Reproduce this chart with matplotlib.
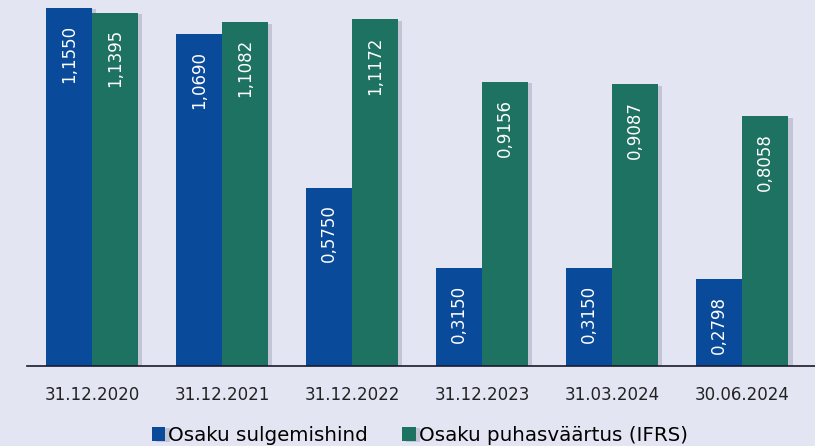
import matplotlib.pyplot as plt
import matplotlib.patheffects as pe
import numpy as np

dates = ['31.12.2020', '31.12.2021', '31.12.2022', '31.12.2023', '31.03.2024', '30.06.2024']
closing = [1.1550, 1.0690, 0.5750, 0.3150, 0.3150, 0.2798]
nav = [1.1395, 1.1082, 1.1172, 0.9156, 0.9087, 0.8058]
series_names = ['Osaku sulgemishind', 'Osaku puhasväärtus (IFRS)']

BG = '#e3e5f3'
BLUE = '#0a4a9a'
GREEN = '#1e7262'

fig = plt.figure(figsize=(8.15, 4.46), dpi=100, facecolor=BG)
ax = fig.add_axes([0.033, 0.179, 0.967, 0.821], facecolor=BG)

x = np.arange(len(dates))
w = 0.355
shadow = [pe.SimplePatchShadow(offset=(3, -1), shadow_rgbFace='#8a8ca0', alpha=0.35), pe.Normal()]

b1 = ax.bar(x - w / 2, closing, w, color=BLUE, label=series_names[0], path_effects=shadow, zorder=2)
b2 = ax.bar(x + w / 2, nav, w, color=GREEN, label=series_names[1], path_effects=shadow, zorder=2)

for bars, vals in ((b1, closing), (b2, nav)):
    for r, v in zip(bars, vals):
        ax.annotate(f'{v:.4f}'.replace('.', ','), (r.get_x() + r.get_width() / 2, v),
                    xytext=(0, -12), textcoords='offset points', rotation=90,
                    ha='center', va='top', color='white', fontsize=12, zorder=3)

ax.set_xlim(-0.5, 5.56)
ax.set_ylim(0, 1.18)
ax.set_xticks(x)
ax.set_xticklabels(dates, fontsize=12, color='#222222')
ax.tick_params(axis='x', length=0, pad=14)
ax.set_yticks([])
for s in ('top', 'right', 'left'):
    ax.spines[s].set_visible(False)
ax.spines['bottom'].set_color('#1a1a2e')
ax.spines['bottom'].set_linewidth(1.2)

fig.legend(handles=[b1, b2], loc='lower center', bbox_to_anchor=(0.515, -0.037), ncol=2,
           frameon=False, fontsize=14.3, handlelength=0.7, handleheight=0.7,
           handletextpad=0.15, columnspacing=1.7)

fig.savefig('out.png', dpi=100, facecolor=BG)
